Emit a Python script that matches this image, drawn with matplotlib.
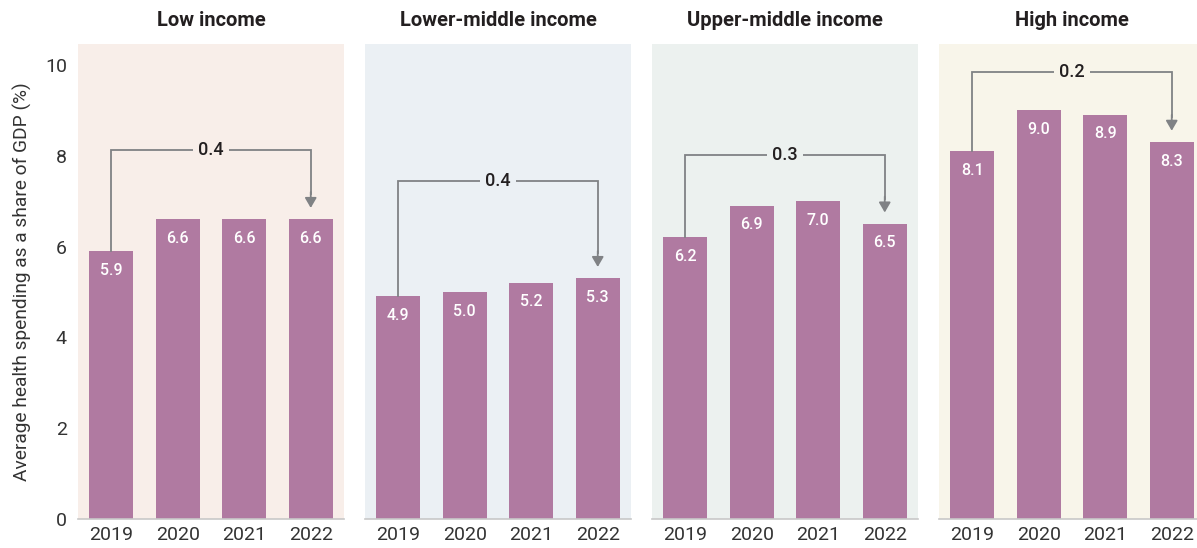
import matplotlib
matplotlib.use("Agg")
import matplotlib.pyplot as plt

plt.rcParams['font.family'] = ['Roboto', 'DejaVu Sans']

# data
groups = ["Low income", "Lower-middle income", "Upper-middle income", "High income"]
years = ["2019", "2020", "2021", "2022"]
low = [5.9, 6.6, 6.6, 6.6]
lower_mid = [4.9, 5.0, 5.2, 5.3]
upper_mid = [6.2, 6.9, 7.0, 6.5]
high = [8.1, 9.0, 8.9, 8.3]
changes = ["0.4", "0.4", "0.3", "0.2"]

series = [low, lower_mid, upper_mid, high]
bracket_y = [8.13, 7.44, 8.02, 9.85]
panel_bg = ['#f8eee9', '#ebf0f4', '#ecf1ef', '#f8f5ea']
bar_color = '#b07aa1'
arrow_color = '#808285'
text_color = '#231f20'

W, H = 1197, 548
fig = plt.figure(figsize=(W / 100, H / 100), dpi=100)

lefts = [78, 365, 652, 939]
pw = 266
top, bottom = 44, 519

for i, (name, vals) in enumerate(zip(groups, series)):
    ax = fig.add_axes([lefts[i] / W, (H - bottom) / H, pw / W, (bottom - top) / H])
    ax.set_facecolor(panel_bg[i])
    x = range(len(years))
    ax.bar(x, vals, width=0.66, color=bar_color, zorder=2)
    ax.set_xlim(-0.5, 3.5)
    ax.set_ylim(0, 10.46)
    ax.set_xticks(list(x))
    ax.set_xticklabels(years, fontsize=14, color='#333333')
    ax.set_yticks([0, 2, 4, 6, 8, 10])
    ax.tick_params(length=0, pad=5)
    if i == 0:
        ax.set_yticklabels(['0', '2', '4', '6', '8', '10'], fontsize=14, color='#333333')
        ax.tick_params(axis='y', pad=8)
        ax.set_ylabel("Average health spending as a share of GDP (%)", fontsize=13.8,
                      color='#333333', labelpad=9)
    else:
        ax.set_yticklabels([])
    for s in ['top', 'right', 'left']:
        ax.spines[s].set_visible(False)
    ax.spines['bottom'].set_color('#c8c8c8')
    ax.spines['bottom'].set_linewidth(1.2)

    # value labels
    for xi, v in zip(x, vals):
        ax.text(xi, v - 0.42, f"{v:.1f}", ha='center', va='center',
                color='white', fontsize=11.5, fontweight='medium', zorder=3)

    # bracket arrow from first to last year
    by = bracket_y[i]
    ax.plot([0, 0, 3, 3], [vals[0], by, by, vals[-1] + 0.55], color=arrow_color,
            lw=1.3, zorder=3, solid_joinstyle='miter')
    ax.annotate('', xy=(3, vals[-1] + 0.25), xytext=(3, vals[-1] + 0.6),
                arrowprops=dict(arrowstyle='-|>,head_width=0.35,head_length=0.6',
                                color=arrow_color, lw=1.3, shrinkA=0, shrinkB=0),
                zorder=3)
    ax.text(1.5, by, changes[i], ha='center', va='center', fontsize=13,
            fontweight='medium', color=text_color, zorder=4,
            bbox=dict(boxstyle='square,pad=0.3', facecolor=panel_bg[i], edgecolor='none'))

    fig.text((lefts[i] + pw / 2) / W if i < 3 else (lefts[i] + 272 / 2 - 3) / W,
             (H - 20) / H, name, ha='center', va='center', fontsize=14.5,
             fontweight='bold', color=text_color)

fig.savefig('out.png', dpi=100)
